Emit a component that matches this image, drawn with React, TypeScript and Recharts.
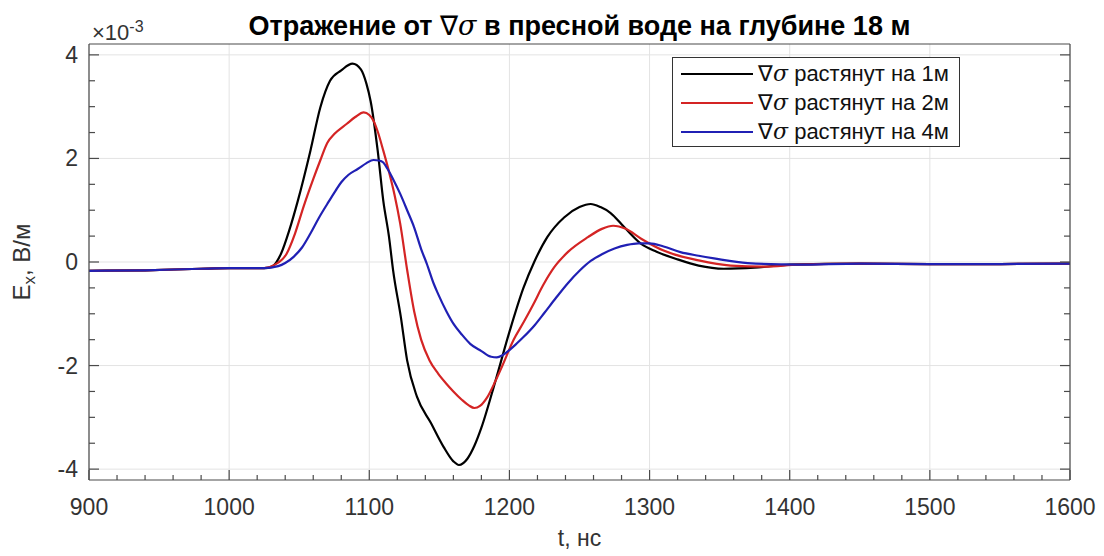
import { LineChart, Line, XAxis, YAxis, CartesianGrid, Legend } from "recharts";

// time, ns
const tMajor = [900, 1000, 1100, 1200, 1300, 1400, 1500, 1600];
const eMajor = [-4, -2, 0, 2, 4];

// Ex * 1e3, V/m — gradient stretched over 1 m
const t1 = [
  900, 940, 980, 1000, 1025, 1031, 1037, 1043, 1049, 1058, 1065, 1072, 1080, 1088, 1094, 1098,
  1101, 1106, 1110, 1114, 1117, 1122.5, 1127, 1134, 1144, 1153, 1160, 1164, 1170, 1175, 1180,
  1190, 1200, 1210, 1218, 1227, 1239, 1250, 1258, 1265, 1272, 1282, 1294, 1305, 1320, 1335,
  1353, 1375, 1400, 1450, 1500, 1550, 1600,
];
const e1 = [
  -0.17, -0.16, -0.13, -0.12, -0.12, -0.08, 0.16, 0.62, 1.18, 2.15, 2.98, 3.5, 3.7, 3.83, 3.72,
  3.44, 3.1, 2.15, 1.18, 0.5, -0.16, -1.06, -1.9, -2.6, -3.11, -3.57, -3.85, -3.92, -3.8, -3.55,
  -3.2, -2.3, -1.35, -0.5, 0.02, 0.48, 0.86, 1.06, 1.12, 1.06, 0.95, 0.67, 0.35, 0.2, 0.05,
  -0.07, -0.13, -0.11, -0.05, -0.03, -0.04, -0.04, -0.03,
];

// stretched over 2 m
const t2 = [
  900, 940, 980, 1000, 1025, 1032, 1041, 1047, 1053, 1060, 1065, 1070, 1075, 1084, 1090, 1096,
  1100, 1103, 1106, 1110, 1114, 1118, 1122, 1127, 1132, 1137, 1143, 1149, 1155, 1160, 1166,
  1171, 1175, 1179, 1184, 1190, 1195, 1203, 1210, 1217, 1224, 1232, 1242, 1256, 1266, 1274,
  1283, 1294, 1310, 1335, 1358, 1382, 1406, 1450, 1500, 1550, 1600,
];
const e2 = [
  -0.17, -0.16, -0.13, -0.12, -0.12, -0.06, 0.16, 0.55, 1.06, 1.6, 1.96, 2.3, 2.47, 2.67, 2.8,
  2.89, 2.84, 2.73, 2.52, 2.15, 1.75, 1.3, 0.75, -0.15, -0.95, -1.5, -1.9, -2.15, -2.35, -2.5,
  -2.66, -2.77, -2.82, -2.78, -2.62, -2.3, -2.0, -1.5, -1.17, -0.82, -0.45, -0.1, 0.2, 0.48,
  0.64, 0.7, 0.64, 0.45, 0.22, 0.03, -0.07, -0.09, -0.05, -0.03, -0.04, -0.04, -0.03,
];

// stretched over 4 m
const t4 = [
  900, 940, 980, 1000, 1025, 1035, 1040, 1046, 1052, 1058, 1064, 1070, 1076, 1080, 1085, 1092,
  1098, 1103, 1107, 1110, 1113, 1117, 1122, 1127, 1132, 1137, 1141, 1146, 1149, 1155, 1160,
  1166, 1172, 1180, 1187, 1191, 1195, 1200, 1205, 1210, 1218, 1225, 1233, 1242, 1250, 1258,
  1266, 1275, 1284, 1292, 1300, 1310, 1322, 1335, 1346, 1370, 1406, 1450, 1500, 1550, 1600,
];
const e4 = [
  -0.17, -0.16, -0.13, -0.12, -0.12, -0.08, -0.02, 0.1, 0.28, 0.55, 0.85, 1.12, 1.38, 1.54,
  1.68, 1.8, 1.91, 1.97, 1.96, 1.92, 1.8, 1.6, 1.32, 1.0, 0.67, 0.25, -0.03, -0.42, -0.61,
  -0.95, -1.19, -1.4, -1.58, -1.72, -1.83, -1.84, -1.8, -1.7, -1.58, -1.45, -1.22, -0.98, -0.7,
  -0.4, -0.17, 0.02, 0.15, 0.26, 0.33, 0.36, 0.36, 0.3, 0.19, 0.12, 0.07, -0.02, -0.05, -0.03,
  -0.04, -0.04, -0.03,
];

const names = ["∇σ растянут на 1м", "∇σ растянут на 2м", "∇σ растянут на 4м"];
const colors = ["#000000", "#d42424", "#2020b4"];

const zip = (t: number[], e: number[]) => t.map((v, i) => ({ t: v, e: e[i] }));
const series = [zip(t1, e1), zip(t2, e2), zip(t4, e4)];

const tTicks: number[] = [];
for (let v = 900; v <= 1600; v += 20) tTicks.push(v);
const eTicks: number[] = [];
for (let v = -4; v <= 4; v += 0.5) eTicks.push(v);

const FONT = "'Liberation Sans', Arial, Helvetica, sans-serif";
const AXIS = "#4a4a4a";
const TEXT = "#333333";

const isMajorT = (v: number) => v % 100 === 0;
const isMajorE = (v: number) => v % 2 === 0;

function BottomTick({ x, y, payload }: any) {
  const major = isMajorT(payload.value);
  return (
    <g>
      <line x1={x} x2={x} y1={y} y2={y - (major ? 10 : 5)} stroke={AXIS} strokeWidth={1.2} />
      {major && (
        <text x={x} y={y + 35} textAnchor="middle" fontSize={23} fill={TEXT} fontFamily={FONT}>
          {payload.value}
        </text>
      )}
    </g>
  );
}

function TopTick({ x, y, payload }: any) {
  const major = isMajorT(payload.value);
  return <line x1={x} x2={x} y1={y} y2={y + (major ? 10 : 5)} stroke={AXIS} strokeWidth={1.2} />;
}

function LeftTick({ x, y, payload }: any) {
  const major = isMajorE(payload.value);
  return (
    <g>
      <line x1={x} x2={x + (major ? 10 : 6)} y1={y} y2={y} stroke={AXIS} strokeWidth={1.2} />
      {major && (
        <text x={x - 11} y={y + 8} textAnchor="end" fontSize={23} fill={TEXT} fontFamily={FONT}>
          {payload.value}
        </text>
      )}
    </g>
  );
}

function RightTick({ x, y, payload }: any) {
  const major = isMajorE(payload.value);
  return <line x1={x} x2={x - (major ? 10 : 6)} y1={y} y2={y} stroke={AXIS} strokeWidth={1.2} />;
}

function LegendBox({ payload }: any) {
  return (
    <div
      style={{
        border: "1.2px solid #333",
        background: "#fff",
        width: 288,
        height: 90,
        boxSizing: "border-box",
        padding: "1px 0 0 7px",
        fontFamily: FONT,
        fontSize: 22,
        color: "#111",
      }}
    >
      {(payload || []).map((p: any) => (
        <div key={p.value} style={{ display: "flex", alignItems: "center", height: 29 }}>
          <svg width={74} height={6} style={{ marginRight: 4 }}>
            <line x1={1} x2={73} y1={3} y2={3} stroke={p.color} strokeWidth={2.2} />
          </svg>
          <span style={{ whiteSpace: "nowrap" }}>
            ∇<i style={{ fontFamily: "'DejaVu Serif', serif" }}>σ</i>
            {String(p.value).slice(2)}
          </span>
        </div>
      ))}
    </div>
  );
}

export default function App() {
  return (
    <div style={{ position: "absolute", left: 0, top: 0, width: 1104, height: 556, background: "#fff" }}>
      <LineChart width={1104} height={556} margin={{ top: 43, right: 33, bottom: 36, left: 29 }}>
        <CartesianGrid stroke="#e3e3e3" strokeWidth={1} verticalValues={tMajor} horizontalValues={eMajor} />
        <XAxis
          dataKey="t"
          type="number"
          domain={[900, 1600]}
          allowDataOverflow
          ticks={tTicks}
          interval={0}
          height={40}
          tickSize={0}
          tickMargin={0}
          tickLine={false}
          axisLine={{ stroke: AXIS, strokeWidth: 1.2 }}
          tick={<BottomTick />}
        />
        <XAxis
          xAxisId="top"
          orientation="top"
          type="number"
          domain={[900, 1600]}
          allowDataOverflow
          ticks={tTicks}
          interval={0}
          height={1}
          tickSize={0}
          tickMargin={0}
          tickLine={false}
          axisLine={{ stroke: AXIS, strokeWidth: 1.2 }}
          tick={<TopTick />}
        />
        <YAxis
          type="number"
          domain={[-4.21, 4.21]}
          allowDataOverflow
          ticks={eTicks}
          interval={0}
          width={60}
          tickSize={0}
          tickMargin={0}
          tickLine={false}
          axisLine={{ stroke: AXIS, strokeWidth: 1.2 }}
          tick={<LeftTick />}
        />
        <YAxis
          yAxisId="right"
          orientation="right"
          type="number"
          domain={[-4.21, 4.21]}
          allowDataOverflow
          ticks={eTicks}
          interval={0}
          width={1}
          tickSize={0}
          tickMargin={0}
          tickLine={false}
          axisLine={{ stroke: AXIS, strokeWidth: 1.2 }}
          tick={<RightTick />}
        />
        {series.map((d, i) => (
          <Line
            key={names[i]}
            data={d}
            dataKey="e"
            name={names[i]}
            type="monotone"
            stroke={colors[i]}
            strokeWidth={2.2}
            dot={false}
            activeDot={false}
            isAnimationActive={false}
          />
        ))}
        <Legend
          layout="vertical"
          align="center"
          verticalAlign="middle"
          content={<LegendBox />}
          wrapperStyle={{ left: 672, top: 57, width: 288 }}
        />
      </LineChart>
      <div
        style={{
          position: "absolute",
          left: 89,
          width: 981,
          top: 10,
          textAlign: "center",
          fontFamily: FONT,
          fontWeight: "bold",
          fontSize: 27,
          lineHeight: "31px",
          color: "#000",
          whiteSpace: "nowrap",
        }}
      >
        Отражение от <span style={{ fontWeight: "normal" }}>∇</span>
        <i style={{ fontFamily: "'DejaVu Serif', serif", fontWeight: "normal" }}>σ</i> в пресной воде на глубине 18 м
      </div>
      <div
        style={{
          position: "absolute",
          left: 92,
          top: 14,
          fontFamily: FONT,
          fontSize: 22,
          lineHeight: "26px",
          color: TEXT,
          whiteSpace: "nowrap",
        }}
      >
        ×10<sup style={{ fontSize: 16, verticalAlign: "8px" }}>-3</sup>
      </div>
      <div
        style={{
          position: "absolute",
          left: 24,
          top: 262,
          transform: "translate(-50%, -50%) rotate(-90deg)",
          fontFamily: FONT,
          fontSize: 24,
          color: TEXT,
          whiteSpace: "nowrap",
        }}
      >
        E<sub style={{ fontSize: 17 }}>x</sub>, В/м
      </div>
      <div
        style={{
          position: "absolute",
          left: 89,
          width: 981,
          top: 525,
          textAlign: "center",
          fontFamily: FONT,
          fontSize: 23,
          color: TEXT,
        }}
      >
        t, нс
      </div>
    </div>
  );
}
